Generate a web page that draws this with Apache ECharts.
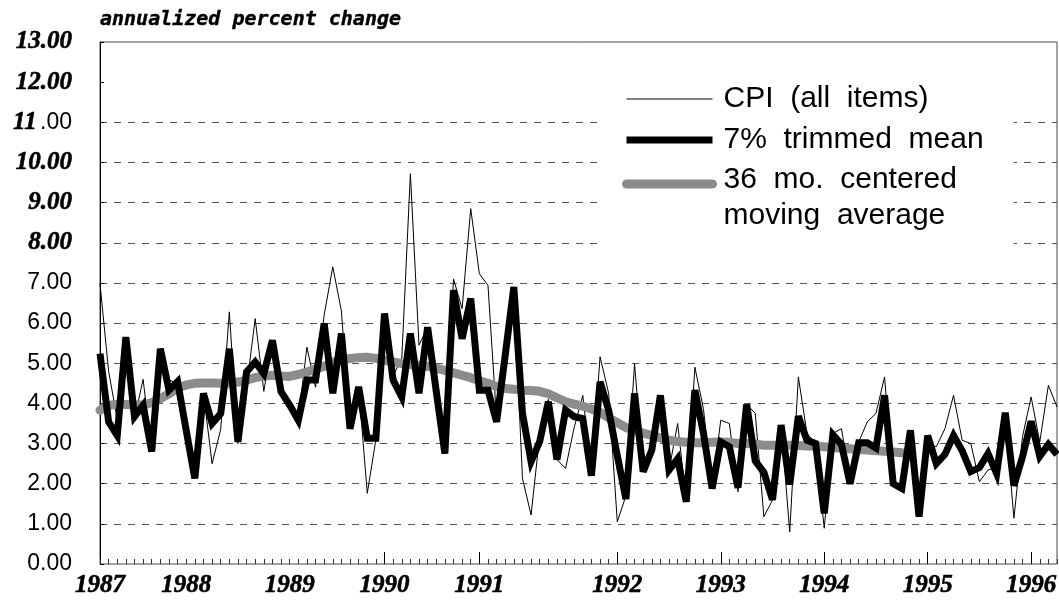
<!DOCTYPE html>
<html><head><meta charset="utf-8">
<script src="https://cdn.jsdelivr.net/npm/echarts@6/dist/echarts.min.js"></script>
<style>html,body{margin:0;padding:0;background:#fff}#c{width:1059px;height:604px}</style>
</head><body><div id="c"></div>
<script>
// ---- data ----
const startYear = 1987;
const monthCount = 112; // Jan 1987 .. Apr 1996
const months = [];
for (let i = 0; i < monthCount; i++) {
  months.push((startYear + Math.floor(i / 12)) + '-' + String(i % 12 + 1).padStart(2, '0'));
}
const yearTickLabels = ['1987','1988','1989','1990','1991','1992','1993','1994','1995','1996'];
const yearTickIndex = [0, 10, 22, 33, 44, 60, 72, 84, 96, 108];
const tallTickIndex = [33, 44, 60, 72, 84, 96, 108];

const cpi = [
  6.98, 4.8, 3.6, 5.65, 3.6, 4.6, 2.8, 5.36, 4.58, 4.5,
  3.3, 2.13, 4.25, 2.5, 3.35, 6.28, 3.0, 4.4, 6.11, 4.3,
  5.55, 4.3, 3.9, 3.6, 5.4, 4.4, 6.2, 7.4, 6.3, 3.4,
  4.4, 1.76, 3.1, 6.2, 4.7, 5.1, 9.72, 5.45, 5.9, 4.25,
  2.75, 7.1, 6.36, 8.85, 7.23, 6.94, 3.6, 5.2, 6.9, 2.13,
  1.22, 3.2, 4.1, 2.6, 2.38, 3.4, 4.2, 2.2, 5.16, 4.25,
  1.05, 1.7, 4.99, 2.34, 2.84, 4.2, 2.34, 3.5, 1.55, 4.9,
  3.85, 1.88, 3.58, 3.5, 1.8, 3.98, 3.75, 1.18, 1.59, 3.46,
  0.8, 4.66, 3.25, 3.0, 0.89, 3.25, 3.37, 2.09, 3.04, 3.54,
  3.75, 4.66, 2.0, 1.88, 3.33, 1.18, 3.0, 2.92, 3.37, 4.2,
  3.08, 3.0, 2.05, 2.34, 2.42, 3.7, 1.14, 3.17, 4.16, 3.04,
  4.45, 3.91
];
const trimmedMean = [
  5.24, 3.54, 3.2, 5.65, 3.67, 3.95, 2.8, 5.36, 4.33, 4.54,
  3.33, 2.13, 4.25, 3.5, 3.75, 5.36, 3.04, 4.78, 5.03, 4.74,
  5.57, 4.29, 3.96, 3.58, 4.58, 4.58, 5.99, 4.25, 5.74, 3.37,
  4.41, 3.13, 3.13, 6.24, 4.58, 4.16, 5.74, 4.25, 5.9, 4.3,
  2.75, 6.82, 5.61, 6.61, 4.33, 4.33, 3.54, 5.2, 6.9, 3.75,
  2.55, 3.05, 4.04, 2.6, 3.83, 3.67, 3.62, 2.2, 4.54, 3.83,
  2.7, 1.62, 4.25, 2.3, 2.84, 4.2, 2.34, 2.62, 1.55, 4.33,
  3.25, 1.88, 3.04, 2.92, 1.9, 3.97, 2.57, 2.28, 1.6, 3.46,
  1.98, 3.68, 3.08, 3.0, 1.26, 3.22, 2.98, 2.0, 3.02, 3.02,
  2.89, 4.2, 2.0, 1.88, 3.33, 1.18, 3.2, 2.5, 2.73, 3.2,
  2.82, 2.3, 2.4, 2.75, 2.25, 3.77, 1.95, 2.67, 3.55, 2.68,
  2.98, 2.73
];
const movingAvg = [
  3.83, 3.95, 3.98, 3.97, 3.96, 3.96, 4.02, 4.12, 4.24, 4.38,
  4.46, 4.5, 4.51, 4.51, 4.5, 4.51, 4.53, 4.58, 4.64, 4.68,
  4.7, 4.68, 4.67, 4.72, 4.78, 4.86, 4.92, 5.02, 5.08, 5.12,
  5.14, 5.15, 5.12, 5.07, 5.03, 4.99, 4.96, 4.95, 4.92, 4.88,
  4.82, 4.76, 4.7, 4.64, 4.56, 4.5, 4.42, 4.37, 4.35, 4.33,
  4.32, 4.3, 4.24, 4.14, 4.04, 3.98, 3.93, 3.86, 3.78, 3.64,
  3.52, 3.4, 3.32, 3.26, 3.2, 3.14, 3.08, 3.05, 3.03, 3.02,
  3.02, 3.03, 3.04, 3.03, 3.0, 3.0, 2.98, 2.96, 2.96, 2.96,
  2.96, 2.95, 2.94, 2.93, 2.92, 2.9, 2.88, 2.87, 2.85, 2.84,
  2.82, 2.81, 2.79, 2.77
];
const seriesNames = ['CPI (all items)', '7% trimmed mean', '36 mo. centered moving average'];
const titleText = 'annualized percent change';

// ---- chart ----
const chart = echarts.init(document.getElementById('c'), null, {renderer: 'canvas'});
const serifBI = {fontFamily: 'Liberation Serif', fontWeight: 'bold', fontStyle: 'italic', color: '#000',
                 textBorderColor: '#000', textBorderWidth: 0.6};
const splitColors = [];
for (let v = 0; v <= 13; v++) splitColors.push((v === 0 || v === 12 || v === 13) ? 'rgba(0,0,0,0)' : '#555');

chart.setOption({
  animation: false,
  backgroundColor: '#fff',
  title: {
    text: titleText, left: 100, top: 10, padding: 0,
    textStyle: {fontFamily: 'DejaVu Sans Mono', fontWeight: 'bold', fontStyle: 'italic', fontSize: 20, color: '#000',
                textBorderColor: '#000', textBorderWidth: 0.4}
  },
  grid: {left: 100, right: 2, top: 42, bottom: 40, show: true, borderColor: '#444', borderWidth: 1,
         containLabel: false, outerBoundsMode: 'none'},
  legend: {
    orient: 'vertical', left: 603, top: 52,
    padding: [0, 30, 22, 19], backgroundColor: '#fff',
    itemWidth: 86, itemHeight: 10, itemGap: -53,
    lineStyle: {width: 'inherit'},
    itemStyle: {color: 'rgba(0,0,0,0)', borderWidth: 0},
    textStyle: {
      fontFamily: 'Liberation Sans', fontSize: 30, color: '#000', lineHeight: 94, padding: [0, 0, 0, 6],
      rich: {
        e: {fontFamily: 'Liberation Sans', fontSize: 10, lineHeight: 28},
        t: {fontFamily: 'Liberation Sans', fontSize: 30, lineHeight: 36, color: '#000'}
      }
    },
    formatter: name => name === seriesNames[2]
      ? '{e| }\n{t|36  mo.  centered}\n{t|moving  average}'
      : name.replace(/ /g, '  '),
    data: [
      {name: seriesNames[0]},
      {name: seriesNames[1]},
      {name: seriesNames[2]}
    ]
  },
  xAxis: [{
    type: 'category', data: months, boundaryGap: false,
    axisLine: {show: false},
    axisTick: {show: true, inside: true, length: 5, interval: 0, lineStyle: {color: '#333'}},
    axisLabel: {
      interval: (i) => yearTickIndex.indexOf(i) >= 0,
      formatter: (v, i) => yearTickLabels[yearTickIndex.indexOf(i)] || '',
      margin: 9, fontSize: 25, ...serifBI
    },
    splitLine: {show: false}
  }, {
    type: 'category', data: months, boundaryGap: false, position: 'bottom',
    axisLine: {show: false},
    axisTick: {show: true, inside: true, length: 12, interval: (i) => tallTickIndex.indexOf(i) >= 0, lineStyle: {color: '#000'}},
    axisLabel: {show: false},
    splitLine: {show: false}
  }],
  yAxis: {
    type: 'value', min: 0, max: 13, interval: 1,
    axisLine: {show: true, lineStyle: {color: '#000', width: 1}},
    axisTick: {show: true, inside: true, length: 4, lineStyle: {color: '#000'}},
    splitLine: {show: true, lineStyle: {color: splitColors, type: [7, 7], width: 1}},
    axisLabel: {
      margin: 28,
      formatter: v => v >= 8 ? (v === 11 ? '{b|11} {s|.00}' : '{b|' + v.toFixed(2) + '}') : '{s|' + v.toFixed(2) + '}',
      rich: {
        b: {fontSize: 25, ...serifBI},
        s: {fontFamily: 'Liberation Sans', fontSize: 23, color: '#000'}
      }
    }
  },
  series: [
    {name: seriesNames[0], type: 'line', data: cpi, symbol: 'none', xAxisIndex: 0,
     lineStyle: {color: '#000', width: 1}, itemStyle: {color: '#000'}},
    {name: seriesNames[2], type: 'line', data: movingAvg, symbol: 'none', xAxisIndex: 0,
     lineStyle: {color: '#8c8c8c', width: 9, cap: 'round'}, itemStyle: {color: '#8c8c8c'}},
    {name: seriesNames[1], type: 'line', data: trimmedMean, symbol: 'none', xAxisIndex: 0,
     lineStyle: {color: '#000', width: 7, join: 'miter', miterLimit: 4}, itemStyle: {color: '#000'}}
  ]
});
</script></body></html>
